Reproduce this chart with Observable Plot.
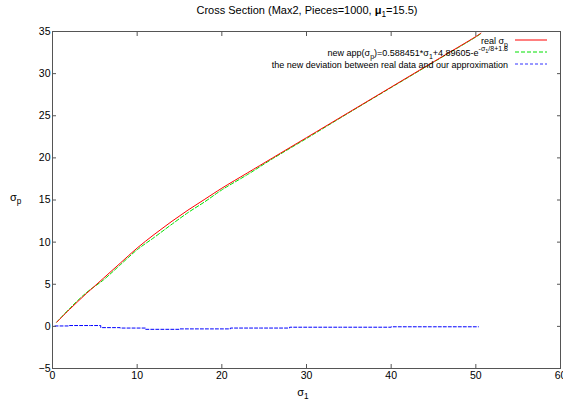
<!DOCTYPE html>
<html>
<head>
<meta charset="utf-8">
<script src="https://cdn.jsdelivr.net/npm/d3@7"></script>
<script src="https://cdn.jsdelivr.net/npm/@observablehq/plot@0.6"></script>
<style>
  html, body { margin: 0; padding: 0; background: #fff; }
  #chart svg { display: block; }
</style>
</head>
<body>
<div id="chart"></div>
<script>
// sigma_1 sample positions
const sigma1 = [0.5, 2, 4, 6, 8, 10, 12, 14, 16, 18, 20, 23, 26, 30, 35, 40, 45, 50, 50.6];
// real sigma_p
const realSigmaP = [0.5, 2.0, 3.9, 5.7, 7.5, 9.3, 10.9, 12.4, 13.8, 15.1, 16.4, 18.2, 20.0, 22.4, 25.4, 28.4, 31.4, 34.4, 34.8];
// new approximation of sigma_p
const approxSigmaP = [0.5, 2.1, 4.0, 5.5, 7.3, 9.1, 10.55, 12.05, 13.5, 14.8, 16.2, 18.0, 19.9, 22.3, 25.35, 28.35, 31.35, 34.35, 34.75];
// deviation between real data and approximation
const devSigma1 = [0.3, 2, 4.5, 5.7, 8, 10.4, 11, 12.8, 15, 18.7, 21, 24.6, 28, 34, 40, 45, 50.3];
const deviation = [0.05, 0.1, 0.1, -0.15, -0.2, -0.2, -0.35, -0.35, -0.3, -0.3, -0.2, -0.2, -0.1, -0.1, -0.05, -0.05, -0.05];

const xTicks = [0, 10, 20, 30, 40, 50, 60];
const yTicks = [-5, 0, 5, 10, 15, 20, 25, 30, 35];

const realData = sigma1.map((x, i) => ({x, y: realSigmaP[i]}));
const approxData = sigma1.map((x, i) => ({x, y: approxSigmaP[i]}));
const devData = devSigma1.map((x, i) => ({x, y: deviation[i]}));

const W = 563, H = 401;
const font = "'Liberation Sans', Arial, Helvetica, sans-serif";

const plot = Plot.plot({
  width: W,
  height: H,
  marginLeft: 52,
  marginRight: 3,
  marginTop: 31,
  marginBottom: 33,
  style: {fontFamily: font, fontSize: "10.5px", background: "#fff", color: "#000", overflow: "hidden"},
  x: {domain: [0, 60], label: null},
  y: {domain: [-5, 35], label: null},
  marks: [
    Plot.lineY(devData, {x: "x", y: "y", stroke: "#0000ff", strokeWidth: 1, strokeDasharray: "3,2", curve: "step-after"}),
    Plot.lineY(approxData, {x: "x", y: "y", stroke: "#00e000", strokeWidth: 1, strokeDasharray: "4,2", curve: "catmull-rom"}),
    Plot.lineY(realData, {x: "x", y: "y", stroke: "#ff0000", strokeWidth: 1, curve: "catmull-rom"}),
    Plot.frame({stroke: "#555"}),
    Plot.axisX(xTicks, {anchor: "bottom", tickSize: -4, tickPadding: 7, stroke: "#555", label: null}),
    Plot.axisX(xTicks, {anchor: "top", tickSize: -4, text: null, stroke: "#555", label: null}),
    Plot.axisY(yTicks, {anchor: "left", tickSize: -4, tickPadding: 6, stroke: "#555", label: null}),
    Plot.axisY(yTicks, {anchor: "right", tickSize: -4, text: null, stroke: "#555", label: null})
  ]
});
document.getElementById("chart").appendChild(plot);

// decorations: title, axis labels, legend
const svg = d3.select(plot);
const g = svg.append("g").attr("font-family", font).attr("fill", "#000");

function richText(sel, parts, size) {
  let shift = 0;
  for (const [t, kind] of parts) {
    const target = kind === "sub" ? 3 : kind === "sup" ? -4 : 0;
    sel.append("tspan")
      .attr("dy", target - shift)
      .attr("font-size", kind === "n" ? size : size * 0.75)
      .text(t);
    shift = target;
  }
}

// Title
const title = g.append("text").attr("x", 307).attr("y", 14).attr("text-anchor", "middle").attr("font-size", 11);
richText(title, [["Cross Section (Max2, Pieces=1000, ", "n"], ["μ", "n"], ["1", "sub"], ["=15.5)", "n"]], 11);
title.selectAll("tspan").filter((d, i) => i === 1).attr("font-weight", "bold");

// Axis labels
const xl = g.append("text").attr("x", 303).attr("y", 396).attr("text-anchor", "middle").attr("font-size", 11);
richText(xl, [["σ", "n"], ["1", "sub"]], 11);
const yl = g.append("text").attr("x", 10).attr("y", 201).attr("text-anchor", "start").attr("font-size", 11);
richText(yl, [["σ", "n"], ["p", "sub"]], 11);

// Legend
const legend = [
  {parts: [["real σ", "n"], ["p", "sub"]], color: "#ff0000", dash: null, y: 40},
  {parts: [["new app(σ", "n"], ["p", "sub"], [")=0.588451*σ", "n"], ["1", "sub"], ["+4.89605-e", "n"], ["-σ", "sup"], ["1", "n2"], ["/8+1.8", "sup"]], color: "#00e000", dash: "4,2", y: 52},
  {parts: [["the new deviation between real data and our approximation", "n"]], color: "#3333ff", dash: "3,2", y: 64}
];
for (const L of legend) {
  const t = g.append("text").attr("x", 508).attr("y", L.y + 3.5).attr("text-anchor", "end").attr("font-size", 9);
  let shift = 0;
  for (const [txt, kind] of L.parts) {
    let target = 0, fs = 9;
    if (kind === "sub") { target = 3; fs = 7; }
    else if (kind === "sup") { target = -5; fs = 7; }
    else if (kind === "n2") { target = -3; fs = 5.5; }
    t.append("tspan").attr("dy", target - shift).attr("font-size", fs).text(txt);
    shift = target;
  }
  const line = g.append("line").attr("x1", 515).attr("x2", 547).attr("y1", L.y).attr("y2", L.y)
    .attr("stroke", L.color).attr("stroke-width", 1);
  if (L.dash) line.attr("stroke-dasharray", L.dash);
}
</script>
</body>
</html>
